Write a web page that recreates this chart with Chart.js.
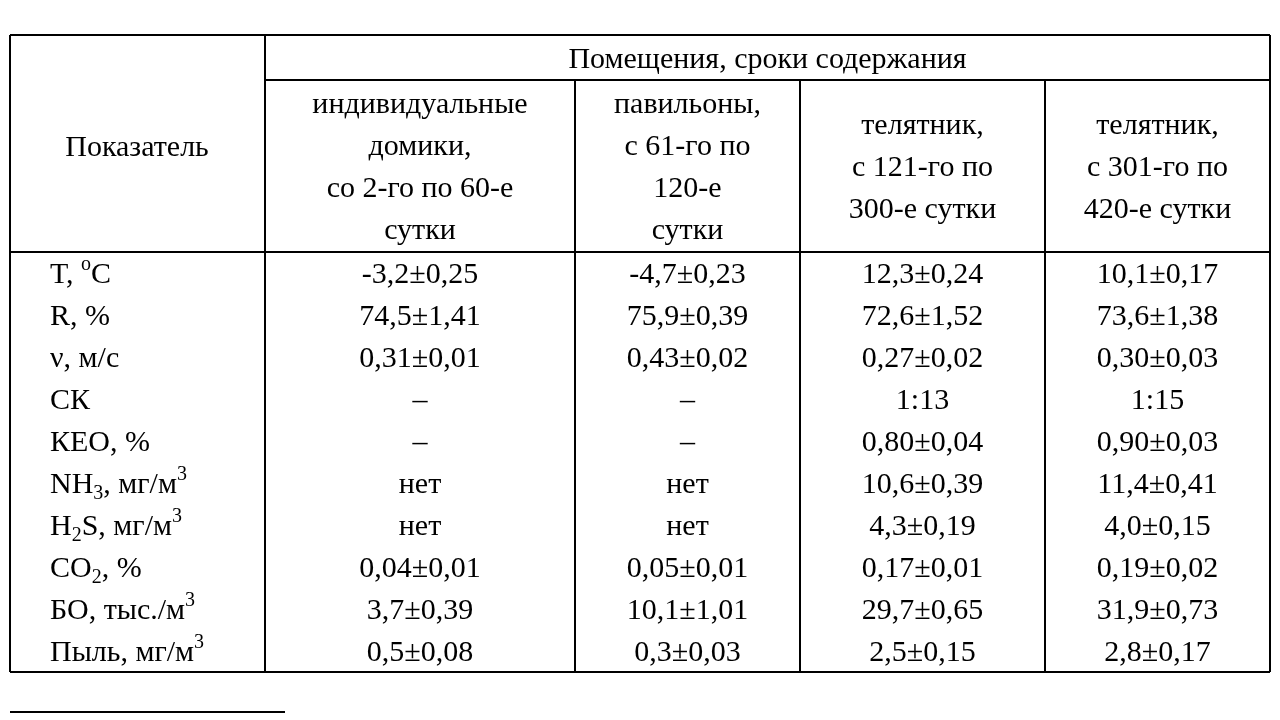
<!DOCTYPE html>
<html>
<head>
<meta charset="utf-8">
<script src="https://cdn.jsdelivr.net/npm/chart.js@4/dist/chart.umd.min.js"></script>
<style>
  body { margin: 0; background: #fff; }
  #wrap { width: 1280px; height: 720px; }
</style>
</head>
<body>
<div id="wrap"><canvas id="tbl"></canvas></div>
<script>
// table content
const groupTitle = 'Помещения, сроки содержания';
const firstHeader = 'Показатель';
const columnHeaders = [
  ['индивидуальные', 'домики,', 'со 2-го по 60-е', 'сутки'],
  ['павильоны,', 'с 61-го по', '120-е', 'сутки'],
  ['телятник,', 'с 121-го по', '300-е сутки'],
  ['телятник,', 'с 301-го по', '420-е сутки']
];
// ^x = superscript char, _x = subscript char
const indicators = ['T, ^oC', 'R, %', 'ν, м/с', 'СК', 'КЕО, %', 'NH_3, мг/м^3', 'H_2S, мг/м^3', 'CO_2, %', 'БО, тыс./м^3', 'Пыль, мг/м^3'];
const colDomiki   = ['-3,2±0,25', '74,5±1,41', '0,31±0,01', '–', '–', 'нет', 'нет', '0,04±0,01', '3,7±0,39', '0,5±0,08'];
const colPavilony = ['-4,7±0,23', '75,9±0,39', '0,43±0,02', '–', '–', 'нет', 'нет', '0,05±0,01', '10,1±1,01', '0,3±0,03'];
const colTel121   = ['12,3±0,24', '72,6±1,52', '0,27±0,02', '1:13', '0,80±0,04', '10,6±0,39', '4,3±0,19', '0,17±0,01', '29,7±0,65', '2,5±0,15'];
const colTel301   = ['10,1±0,17', '73,6±1,38', '0,30±0,03', '1:15', '0,90±0,03', '11,4±0,41', '4,0±0,15', '0,19±0,02', '31,9±0,73', '2,8±0,17'];

const FONT = '"Liberation Serif", "DejaVu Serif", serif';
const colEdges = [10, 265, 575, 800, 1045, 1270];
const rowTop = 252, rowH = 42, tableTop = 35, groupBottom = 80;

function drawRich(ctx, str, x, y, size, align) {
  const parts = [];
  for (let i = 0; i < str.length; i++) {
    const c = str[i];
    if ((c === '^' || c === '_') && i + 1 < str.length) {
      parts.push({ t: str[i + 1], k: c }); i++;
    } else {
      if (parts.length && parts[parts.length - 1].k === 'n') parts[parts.length - 1].t += c;
      else parts.push({ t: c, k: 'n' });
    }
  }
  const small = Math.round(size * 0.65);
  const w = parts.map(p => { ctx.font = (p.k === 'n' ? size : small) + 'px ' + FONT; return ctx.measureText(p.t).width; });
  let cx = align === 'center' ? x - w.reduce((a, b) => a + b, 0) / 2 : x;
  ctx.textAlign = 'left';
  ctx.textBaseline = 'middle';
  parts.forEach((p, i) => {
    ctx.font = (p.k === 'n' ? size : small) + 'px ' + FONT;
    const dy = p.k === '^' ? -size * 0.35 : p.k === '_' ? size * 0.3 : 0;
    ctx.fillText(p.t, cx, y + dy);
    cx += w[i];
  });
}

const tablePlugin = {
  id: 'tablePlugin',
  afterDraw(chart) {
    const { ctx, scales: { x, y } } = chart;
    const px = v => x.getPixelForValue(v);
    const py = v => y.getPixelForValue(v);
    const bottom = rowTop + rowH * indicators.length;
    ctx.save();
    ctx.strokeStyle = '#000';
    ctx.fillStyle = '#000';
    ctx.lineWidth = 2;
    const line = (x1, y1, x2, y2) => { ctx.beginPath(); ctx.moveTo(px(x1), py(y1)); ctx.lineTo(px(x2), py(y2)); ctx.stroke(); };
    // frame and rules
    line(colEdges[0], tableTop, colEdges[5], tableTop);
    line(colEdges[1], groupBottom, colEdges[5], groupBottom);
    line(colEdges[0], rowTop, colEdges[5], rowTop);
    line(colEdges[0], bottom, colEdges[5], bottom);
    line(colEdges[0], tableTop, colEdges[0], bottom);
    line(colEdges[1], tableTop, colEdges[1], bottom);
    line(colEdges[5], tableTop, colEdges[5], bottom);
    for (let i = 2; i < 5; i++) line(colEdges[i], groupBottom, colEdges[i], bottom);
    // footnote rule
    line(colEdges[0], 712, 285, 712);
    // header text
    const size = 30;
    drawRich(ctx, groupTitle, px((colEdges[1] + colEdges[5]) / 2), py(60), size, 'center');
    drawRich(ctx, firstHeader, px(137), py(148), size, 'center');
    columnHeaders.forEach((lines, c) => {
      const cx = (colEdges[c + 1] + colEdges[c + 2]) / 2;
      const mid = (groupBottom + rowTop) / 2 + 2;
      lines.forEach((t, i) => {
        drawRich(ctx, t, px(cx), py(mid + (i - (lines.length - 1) / 2) * 42), size, 'center');
      });
    });
    // body
    const cols = [colDomiki, colPavilony, colTel121, colTel301];
    indicators.forEach((lab, r) => {
      const cy = rowTop + rowH * r + 23;
      drawRich(ctx, lab, px(50), py(cy), size, 'left');
      cols.forEach((col, c) => {
        const cx = (colEdges[c + 1] + colEdges[c + 2]) / 2;
        drawRich(ctx, col[r], px(cx), py(cy), size, 'center');
      });
    });
    ctx.restore();
  }
};

new Chart(document.getElementById('tbl'), {
  type: 'scatter',
  data: { datasets: [{ data: [] }] },
  options: {
    responsive: true,
    maintainAspectRatio: false,
    animation: false,
    layout: { padding: 0 },
    plugins: { legend: { display: false }, tooltip: { enabled: false } },
    scales: {
      x: { type: 'linear', min: 0, max: 1280, display: false },
      y: { type: 'linear', min: 0, max: 720, reverse: true, display: false }
    }
  },
  plugins: [tablePlugin]
});
</script>
</body>
</html>
